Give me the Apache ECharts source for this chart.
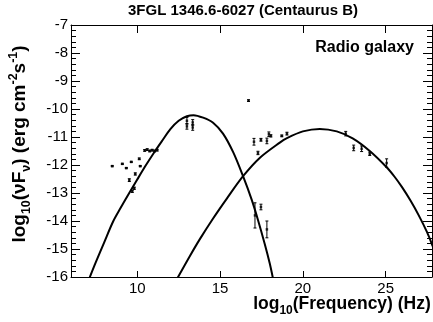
<!DOCTYPE html>
<html>
<head>
<meta charset="utf-8">
<script src="https://cdn.jsdelivr.net/npm/echarts@6/dist/echarts.min.js"></script>
<style>
html,body{margin:0;padding:0;background:#fff;}
#chart{width:433px;height:322px;}
</style>
</head>
<body>
<div id="chart"></div>
<script>
// ---- data ----
const titleText = '3FGL 1346.6-6027 (Centaurus B)';
const classText = 'Radio galaxy';
const xTickValues = [10, 15, 20, 25];

// synchrotron model curve (log10 freq, log10 nuFnu)
const synchX = [7.1, 7.5, 8.0, 8.55, 9.0, 9.5, 10.0, 10.5, 11.0, 11.5, 12.0, 12.5, 13.0, 13.4, 13.98, 14.58, 15.18, 15.8, 16.39, 16.9, 17.3, 17.7, 18.0, 18.2];
const synchY = [-16.06, -15.47, -14.77, -14.01, -13.53, -13.02, -12.52, -12.03, -11.57, -11.14, -10.72, -10.42, -10.26, -10.22, -10.31, -10.49, -10.88, -11.55, -12.40, -13.22, -13.98, -14.82, -15.51, -16.06];

// inverse-Compton model curve
const icX = [12.41, 13.19, 13.80, 14.58, 15.42, 16.39, 17.41, 18.61, 19.04, 20.00, 21.02, 22.05, 23.01, 24.04, 25.06, 25.54, 26.0, 26.5, 27.0, 27.5, 27.83, 28.0];
const icY = [-16.06, -15.24, -14.63, -13.91, -13.19, -12.40, -11.74, -11.20, -11.04, -10.80, -10.71, -10.80, -11.05, -11.50, -12.08, -12.42, -12.80, -13.27, -13.80, -14.40, -14.88, -15.15];

// measured SED points
const ptX = [8.49, 9.10, 9.34, 9.64, 10.12, 10.18, 9.88, 9.52, 9.82, 9.70,
             10.45, 10.60, 10.75, 10.90, 11.05, 11.20,
             13.00, 13.00, 13.35, 13.35,
             16.72,
             17.05, 17.47, 17.83, 17.95, 17.29, 17.11, 17.47, 17.83,
             18.07, 18.73, 19.04, 22.59, 23.07, 23.55, 24.04, 25.06];
const ptY = [-12.04, -11.96, -12.11, -11.89, -11.78, -12.04, -12.32, -12.54, -12.83, -12.94,
             -11.48, -11.45, -11.50, -11.47, -11.50, -11.47,
             -10.42, -10.62, -10.48, -10.66,
             -9.70,
             -11.17, -11.10, -11.14, -10.90, -11.57, -13.80, -13.50, -14.30,
             -10.96, -10.96, -10.88, -10.88, -11.39, -11.42, -11.60, -11.93];
const ptErr = [0.02, 0.02, 0.02, 0.02, 0.03, 0.02, 0.04, 0.05, 0.04, 0.04,
               0.03, 0.03, 0.03, 0.03, 0.03, 0.03,
               0.12, 0.10, 0.10, 0.10,
               0.03,
               0.12, 0.05, 0.10, 0.08, 0.06, 0.45, 0.10, 0.30,
               0.04, 0.03, 0.05, 0.08, 0.10, 0.10, 0.06, 0.15];

// ---- chart ----
const FONT = 'Liberation Sans';
const chart = echarts.init(document.getElementById('chart'), null, {renderer: 'canvas'});

function richSet(main, small, lh) {
  return {
    b: {fontFamily: FONT, fontWeight: 'bold', fontSize: main, color: '#000', lineHeight: lh, verticalAlign: 'middle'},
    s: {fontFamily: FONT, fontWeight: 'bold', fontSize: small, color: '#000', lineHeight: small + 1, verticalAlign: 'bottom'},
    p: {fontFamily: FONT, fontWeight: 'bold', fontSize: small, color: '#000', lineHeight: small + 1, verticalAlign: 'top'}
  };
}

const xRange = {min: 6, max: 27.8};
const yRange = {min: -16, max: -7, interval: 1};

const option = {
  animation: false,
  backgroundColor: '#fff',
  title: [
    {text: titleText, left: 123, top: -2, textStyle: {fontFamily: FONT, fontWeight: 'bold', fontSize: 15, color: '#000'}},
    {text: classText, right: 14, top: 35, textStyle: {fontFamily: FONT, fontWeight: 'bold', fontSize: 16, color: '#000'}}
  ],
  grid: {left: 71, right: 1, top: 25, bottom: 45, containLabel: false, outerBoundsMode: 'none'},
  xAxis: [
    {
      type: 'value', position: 'bottom', min: xRange.min, max: xRange.max,
      name: '{b|log}{s|10}{b|(Frequency) (Hz)}', nameLocation: 'middle', nameGap: 14, nameMoveOverlap: false,
      nameTextStyle: {padding: [0, 0, 0, 181], fontFamily: FONT, fontWeight: 'bold', fontSize: 17.5, rich: richSet(17.5, 12, 26)},
      axisLine: {show: true, lineStyle: {color: '#000', width: 1}},
      axisTick: {show: true, inside: true, length: 6, customValues: xTickValues, lineStyle: {color: '#000'}},
      axisLabel: {show: true, customValues: xTickValues, margin: 4, fontFamily: FONT, fontSize: 15, color: '#000'},
      splitLine: {show: false}
    },
    {
      type: 'value', position: 'top', min: xRange.min, max: xRange.max,
      axisLine: {show: true, lineStyle: {color: '#000', width: 1}},
      axisTick: {show: true, inside: true, length: 8, customValues: xTickValues, lineStyle: {color: '#000'}},
      axisLabel: {show: false},
      splitLine: {show: false}
    }
  ],
  yAxis: [
    {
      type: 'value', position: 'left', min: yRange.min, max: yRange.max, interval: yRange.interval,
      name: '{b|log}{s|10}{b|(νF}{s|ν}{b|) (erg cm}{p|-2}{b|s}{p|-1}{b|)}',
      nameLocation: 'middle', nameGap: 38, nameRotate: 90,
      nameTextStyle: {padding: [0, 0, 0, 14], fontFamily: FONT, fontWeight: 'bold', fontSize: 19, rich: richSet(19, 12.5, 26)},
      axisLine: {show: true, lineStyle: {color: '#000', width: 1}},
      axisTick: {show: true, inside: true, length: 9, lineStyle: {color: '#000'}},
      minorTick: {show: true, splitNumber: 5, length: 5, lineStyle: {color: '#000'}},
      axisLabel: {show: true, margin: 3, fontFamily: FONT, fontSize: 15, color: '#000'},
      splitLine: {show: false}
    },
    {
      type: 'value', position: 'right', min: yRange.min, max: yRange.max, interval: yRange.interval,
      axisLine: {show: true, lineStyle: {color: '#000', width: 1}},
      axisTick: {show: true, inside: true, length: 9, lineStyle: {color: '#000'}},
      minorTick: {show: true, splitNumber: 5, length: 5, lineStyle: {color: '#000'}},
      axisLabel: {show: false},
      splitLine: {show: false}
    }
  ],
  series: [
    {
      name: 'Synchrotron', type: 'line', xAxisIndex: 0, yAxisIndex: 0,
      data: synchX.map((x, i) => [x, synchY[i]]),
      smooth: 0.3, showSymbol: false, clip: true,
      lineStyle: {color: '#000', width: 2}
    },
    {
      name: 'Inverse Compton', type: 'line', xAxisIndex: 0, yAxisIndex: 0,
      data: icX.map((x, i) => [x, icY[i]]),
      smooth: 0.3, showSymbol: false, clip: true,
      lineStyle: {color: '#000', width: 2}
    },
    {
      name: 'Error bars', type: 'custom', xAxisIndex: 0, yAxisIndex: 0,
      data: ptX.map((x, i) => [x, ptY[i], ptErr[i]]),
      renderItem: function (params, api) {
        const x = api.value(0), y = api.value(1), e = api.value(2);
        const top = api.coord([x, y + e]);
        const bot = api.coord([x, y - e]);
        const c = 1.5;
        const st = {stroke: '#000', lineWidth: 1};
        return {
          type: 'group',
          children: [
            {type: 'line', shape: {x1: top[0], y1: top[1], x2: bot[0], y2: bot[1]}, style: st},
            {type: 'line', shape: {x1: top[0] - c, y1: top[1], x2: top[0] + c, y2: top[1]}, style: st},
            {type: 'line', shape: {x1: bot[0] - c, y1: bot[1], x2: bot[0] + c, y2: bot[1]}, style: st}
          ]
        };
      },
      z: 3
    },
    {
      name: 'Data', type: 'scatter', xAxisIndex: 0, yAxisIndex: 0,
      data: ptX.map((x, i) => [x, ptY[i]]),
      symbol: 'rect', symbolSize: 2.5,
      itemStyle: {color: '#000'},
      z: 4
    }
  ]
};
chart.setOption(option);
</script>
</body>
</html>
